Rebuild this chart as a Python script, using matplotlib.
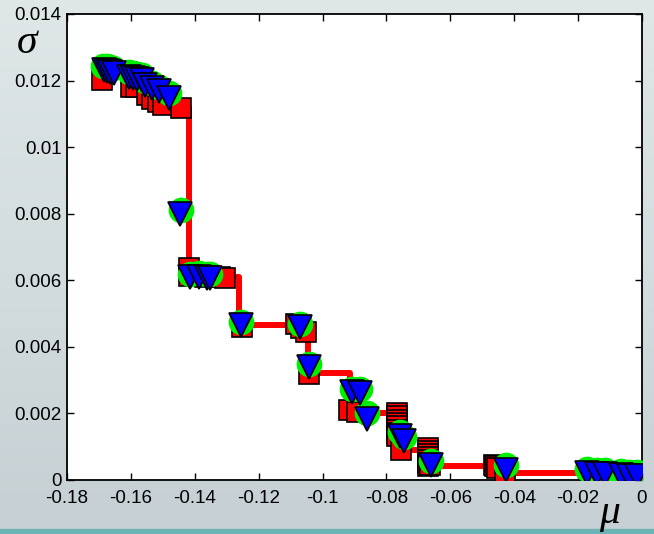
import numpy as np
import matplotlib
matplotlib.use("Agg")
import matplotlib.pyplot as plt
from matplotlib.colors import LinearSegmentedColormap
from matplotlib.patches import Rectangle

plt.rcParams['font.family'] = ['Liberation Sans', 'DejaVu Sans']

# red step curve (corners)
line_mu = [-0.1443, -0.1417, -0.1417, -0.1263, -0.1263, -0.1046, -0.1046, -0.0914,
           -0.0914, -0.0767, -0.0767, -0.0670, -0.0670, -0.0460, -0.0460, 0.0]
line_sig = [0.01119, 0.01119, 0.00609, 0.00609, 0.00465, 0.00465, 0.00321, 0.00321,
            0.00201, 0.00201, 0.00090, 0.00090, 0.00042, 0.00042, 0.00021, 0.00021]

# red squares
sq_mu = [-0.1689, -0.1600, -0.1584, -0.1550, -0.1534, -0.1515, -0.1500, -0.1443,
         -0.1417, -0.1417, -0.1368, -0.1321, -0.1305, -0.1252, -0.1083, -0.1068,
         -0.1052, -0.1043, -0.0918, -0.0893,
         -0.0767, -0.0767, -0.0767, -0.0767, -0.0767, -0.0767, -0.0767, -0.0767, -0.0754,
         -0.0670, -0.0670, -0.0670, -0.0670, -0.0670, -0.0670, -0.0670, -0.0664,
         -0.0464, -0.0460, -0.0455, -0.0429]
sq_sig = [0.01203, 0.01182, 0.01182, 0.01158, 0.01146, 0.01137, 0.01128, 0.01119,
          0.00636, 0.00612, 0.00609, 0.00609, 0.00606, 0.00459, 0.00468, 0.00456,
          0.00444, 0.00318, 0.00210, 0.00204,
          0.00201, 0.00191, 0.00181, 0.00171, 0.00161, 0.00151, 0.00141, 0.00131, 0.00090,
          0.00096, 0.00087, 0.00078, 0.00069, 0.00060, 0.00051, 0.00042, 0.00045,
          0.00045, 0.00042, 0.00036, 0.00024]

# green circles
circ_mu = [-0.1688, -0.1676, -0.1665, -0.1655, -0.1607, -0.1594, -0.1580, -0.1566,
           -0.1555, -0.1533, -0.1512, -0.1480, -0.1444, -0.1414, -0.1388, -0.1362,
           -0.1353, -0.1254, -0.1070, -0.1042, -0.0907, -0.0882, -0.0860, -0.0757,
           -0.0745, -0.0661, -0.0425, -0.0172, -0.0140, -0.0115, -0.0066, -0.0040, -0.0016]
circ_sig = [0.01245, 0.01243, 0.01240, 0.01237, 0.01225, 0.01222, 0.01219, 0.01216,
            0.01199, 0.01192, 0.01182, 0.01162, 0.00812, 0.00620, 0.00622, 0.00619,
            0.00619, 0.00474, 0.00470, 0.00349, 0.00274, 0.00272, 0.00202, 0.00144,
            0.00130, 0.00056, 0.00045, 0.00032, 0.00030, 0.00029, 0.00027, 0.00025, 0.00024]

# blue triangles
tri_mu = [-0.1685, -0.1675, -0.1664, -0.1654, -0.1606, -0.1593, -0.1581, -0.1565,
          -0.1556, -0.1534, -0.1512, -0.1481, -0.1445, -0.1415, -0.1387, -0.1362,
          -0.1352, -0.1254, -0.1071, -0.1043, -0.0908, -0.0883, -0.0861, -0.0758,
          -0.0745, -0.0661, -0.0426, -0.0172, -0.0140, -0.0116, -0.0066, -0.0040, -0.0016]
tri_sig = [0.01232, 0.01230, 0.01227, 0.01224, 0.01212, 0.01209, 0.01206, 0.01203,
           0.01186, 0.01179, 0.01169, 0.01149, 0.00800, 0.00609, 0.00609, 0.00606,
           0.00606, 0.00465, 0.00459, 0.00339, 0.00264, 0.00261, 0.00183, 0.00132,
           0.00117, 0.00045, 0.00030, 0.00021, 0.00019, 0.00018, 0.00015, 0.00013, 0.00012]

xticks = [-0.18, -0.16, -0.14, -0.12, -0.1, -0.08, -0.06, -0.04, -0.02, 0]
xlabels = ['-0.18', '-0.16', '-0.14', '-0.12', '-0.1', '-0.08', '-0.06', '-0.04', '-0.02', '0']
yticks = [0, 0.002, 0.004, 0.006, 0.008, 0.01, 0.012, 0.014]
ylabels = ['0', '0.002', '0.004', '0.006', '0.008', '0.01', '0.012', '0.014']

fig = plt.figure(figsize=(6.54, 5.34), dpi=100)

# slide-like background
bg = fig.add_axes([0, 0, 1, 1], zorder=-10)
cmap = LinearSegmentedColormap.from_list('bg', ['#dfe7e7', '#d3dcde', '#c6d0d4'])
grad = np.linspace(0, 1, 256).reshape(-1, 1)
bg.imshow(grad, aspect='auto', cmap=cmap, extent=[0, 1, 0, 1], origin='upper')
bg.axis('off')
fig.patches.append(Rectangle((0, 0), 1, 5 / 534, transform=fig.transFigure,
                             color='#6bb3b5', zorder=-5))

ax = fig.add_axes([67 / 654, 54 / 534, 575 / 654, 466 / 534])
ax.set_facecolor('white')

ax.plot(line_mu, line_sig, color='#ff0000', lw=4.3, zorder=2)
ax.plot(sq_mu, sq_sig, ls='none', marker='s', ms=14, mfc='#ff0000', mec='black',
        mew=1.2, zorder=3)
ax.plot(circ_mu, circ_sig, ls='none', marker='o', ms=18.5, mfc='#00ee00', mec='none',
        zorder=4)
ax.plot(tri_mu, tri_sig, ls='none', marker='v', ms=17.5, mfc='#0000ff', mec='black',
        mew=1.2, zorder=5)

ax.set_xlim(-0.18, 0)
ax.set_ylim(0, 0.014)
ax.set_xticks(xticks)
ax.set_xticklabels(xlabels)
ax.set_yticks(yticks)
ax.set_yticklabels(ylabels)
ax.tick_params(direction='in', top=True, right=True, length=5, width=1,
               labelsize=13.5, pad=4)
ax.tick_params(axis='x', pad=7)
for s in ax.spines.values():
    s.set_linewidth(1.3)

fig.text(0.026, 0.9, 'σ', family=['Liberation Serif', 'DejaVu Serif'],
         style='italic', fontsize=30, ha='left', va='baseline')
fig.text(0.916, 0.02, 'μ', family=['Liberation Serif', 'DejaVu Serif'],
         style='italic', fontsize=30, ha='left', va='baseline')

fig.savefig('out.png', dpi=100)
